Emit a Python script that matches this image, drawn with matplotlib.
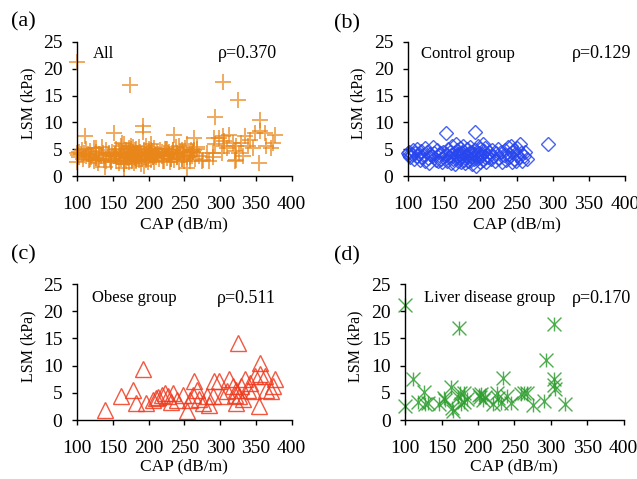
import numpy as np
import matplotlib
matplotlib.use("Agg")
import matplotlib.pyplot as plt
from matplotlib.path import Path

plt.rcParams['font.family'] = ['Liberation Serif', 'DejaVu Serif']

# control group (CAP, LSM)
ctrl_x = [100, 101, 102, 103, 105, 107, 108, 110, 112, 113, 115, 116, 118, 120, 121, 123, 124, 126, 127, 129, 130,
          133, 135, 136, 138, 140, 141, 143, 144, 146, 147, 149,
          151, 152, 153, 154, 155, 156, 158, 159, 160, 161, 162, 164, 165, 166, 167, 168, 169, 170, 171, 172, 173,
          174, 175, 176, 177, 178, 179, 180, 181, 182, 183, 184, 185, 186, 187, 188, 189, 190, 191, 192, 193, 194,
          195, 196, 197, 198, 199, 200, 201, 202, 203, 204, 205, 206, 207, 208, 209, 210,
          212, 214, 216, 218, 220, 222, 224, 226, 228, 230, 232, 234, 236, 238, 239, 240, 242, 243, 244, 246, 247,
          249, 250, 251, 253, 254, 256, 258, 260, 262, 265, 293]
ctrl_y = [4.3, 3.9, 4.6, 3.5, 4.1, 4.8, 3.2, 4.4, 3.8, 5.0, 4.2, 3.0, 4.7, 3.6, 4.0, 5.3, 2.9, 4.5, 3.4, 2.4, 4.1,
          3.7, 5.5, 4.3, 3.1, 4.8, 2.8, 3.9, 4.4, 3.3, 2.6, 4.6,
          3.8, 8.0, 4.2, 2.9, 5.0, 3.5, 4.5, 2.5, 3.9, 5.6, 3.2, 4.3, 2.2, 6.0, 3.7, 4.8, 2.9, 4.1, 3.4, 5.2, 2.6,
          4.4, 3.8, 5.7, 3.1, 4.6, 2.4, 4.0, 3.5, 5.0, 2.8, 4.3, 3.7, 5.4, 3.0, 4.5, 2.3, 4.1, 3.3, 8.2, 4.8, 2.0,
          3.9, 5.6, 3.4, 4.4, 2.7, 5.1, 3.8, 4.2, 6.0, 3.0, 4.7, 3.5, 5.3, 2.6, 4.0, 3.6,
          4.5, 3.2, 4.9, 3.7, 2.9, 4.3, 5.0, 3.4, 4.6, 2.7, 3.9, 4.8, 3.1, 5.4, 4.2, 3.6, 5.7, 2.6, 4.5, 3.3, 4.9,
          2.8, 4.0, 5.2, 3.5, 6.0, 4.4, 2.9, 3.8, 4.6, 3.3, 6.0]

# obese group
obese_x = [139, 161, 178, 183, 192, 197, 206, 210, 213, 218, 223, 227, 231, 234, 239, 248, 253, 258, 262, 264,
           267, 271, 276, 281, 285, 290, 292, 299, 302, 309, 313, 318, 320, 322, 322, 325, 326, 329, 332, 335,
           339, 342, 346, 348, 355, 354, 356, 362, 364, 371, 374, 377]
obese_y = [1.8, 4.4, 5.5, 3.1, 9.3, 3.1, 3.6, 4.0, 4.2, 4.6, 5.0, 4.4, 3.3, 4.9, 3.6, 4.6, 1.6, 3.6, 4.6, 7.1,
           5.5, 3.8, 3.1, 4.4, 2.8, 4.4, 7.1, 7.1, 4.4, 5.3, 7.6, 6.2, 4.7, 3.1, 5.6, 14.2, 4.4, 6.2, 3.8, 7.5,
           5.6, 6.8, 5.3, 8.1, 10.5, 2.5, 8.4, 8.1, 5.6, 5.3, 6.2, 7.6]

# liver disease group
liver_x = [100, 100, 111, 118, 126, 127, 131, 147, 153, 155, 163, 165, 166, 172, 174, 175, 177, 181, 181, 185,
           201, 203, 204, 207, 209, 221, 226, 228, 231, 235, 240, 246, 259, 263, 268, 275, 290, 293, 304, 304,
           305, 306, 320]
liver_y = [21.2, 2.6, 7.5, 3.3, 5.2, 3.0, 3.2, 2.9, 4.0, 3.7, 6.1, 2.3, 1.6, 4.3, 17.0, 5.0, 2.9, 4.9, 3.4, 3.9,
           4.6, 4.2, 4.8, 3.7, 4.2, 2.9, 5.0, 4.0, 3.2, 7.7, 4.4, 3.2, 4.8, 4.9, 5.0, 2.8, 3.5, 11.0, 17.6, 7.5,
           6.5, 5.7, 2.9]

all_x = ctrl_x + obese_x + liver_x
all_y = ctrl_y + obese_y + liver_y

# excel-like star marker (x with a vertical bar)
star = Path([(-1, -1), (1, 1), (-1, 1), (1, -1), (0, -1), (0, 1)],
            [Path.MOVETO, Path.LINETO] * 3)

fig = plt.figure(figsize=(6.37, 4.79), dpi=100)

panels = [
    # rect, x, y, marker, size, color, alpha, group text, rho text, group x, rho x, letter pos, text y, xlabel y
    ([0.121, 0.632, 0.337, 0.281], all_x, all_y, '+', 11, '#E8861A', 0.7, 'All', 'ρ=0.370', 0.074, 0.655, (0.018, 0.955), 0.91, -0.30),
    ([0.6405, 0.632, 0.341, 0.281], ctrl_x, ctrl_y, 'D', 7, '#2846EE', 0.85, 'Control group', 'ρ=0.129', 0.06, 0.755, (0.525, 0.95), 0.91, -0.30),
    ([0.121, 0.123, 0.337, 0.284], obese_x, obese_y, '^', 11, '#F03A1E', 0.85, 'Obese group', 'ρ=0.511', 0.068, 0.65, (0.018, 0.468), 0.895, -0.28),
    ([0.636, 0.123, 0.343, 0.284], liver_x, liver_y, star, 10, '#2E9E2E', 0.85, 'Liver disease group', 'ρ=0.170', 0.085, 0.765, (0.525, 0.466), 0.895, -0.28),
]
letters = ['(a)', '(b)', '(c)', '(d)']

for i, p in enumerate(panels):
    rect, xs, ys, mk, ms, col, al, gtxt, rtxt, gx, rx, lpos, ty, ly = p
    ax = fig.add_axes(rect)
    if mk == '+':
        ax.plot(xs, ys, linestyle='none', marker=mk, markersize=ms, markeredgewidth=1.4,
                color=col, alpha=al, clip_on=False)
    else:
        ax.plot(xs, ys, linestyle='none', marker=mk, markersize=ms, markeredgewidth=1.0,
                markerfacecolor='none', markeredgecolor=col, alpha=al, clip_on=False)
    ax.set_xlim(100, 400)
    ax.set_ylim(0, 25)
    ax.set_xticks(np.arange(100, 401, 50))
    ax.set_yticks(np.arange(0, 26, 5))
    for s in ['top', 'right']:
        ax.spines[s].set_visible(False)
    ax.spines['left'].set_linewidth(1.0)
    ax.spines['bottom'].set_linewidth(1.0)
    ax.tick_params(direction='out', length=3.5, width=1.0, labelsize=14)
    ax.tick_params(axis='x', pad=11)
    ax.tick_params(axis='y', pad=7)
    ax.set_xlabel('CAP (dB/m)', fontsize=12.5)
    ax.set_ylabel('LSM (kPa)', fontsize=11.5)
    ax.xaxis.set_label_coords(0.5, ly)
    ax.yaxis.set_label_coords(-0.19, 0.54)
    ax.text(gx, ty, gtxt, transform=ax.transAxes, fontsize=12, va='center', ha='left')
    ax.text(rx, ty, rtxt, transform=ax.transAxes, fontsize=13, va='center', ha='left')
    fig.text(lpos[0], lpos[1], letters[i], fontsize=16, va='center', ha='left')

fig.savefig('out.png', dpi=100)
